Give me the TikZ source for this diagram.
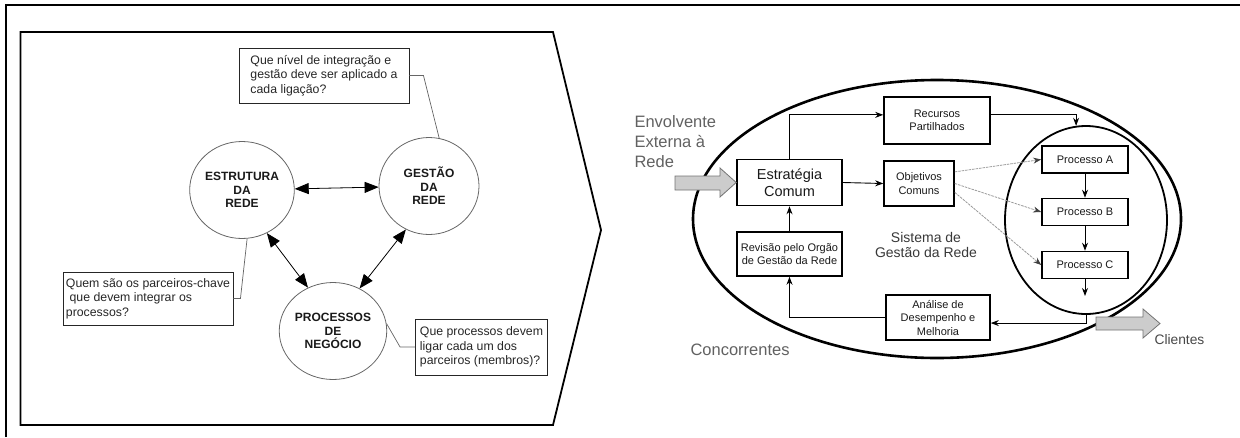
\documentclass[tikz,border=0pt]{standalone}
\usepackage{fontspec}
\setmainfont{Liberation Sans}
\usetikzlibrary{arrows.meta,shapes.geometric,calc}
\begin{document}
\begin{tikzpicture}[x=1pt,y=-1pt,
  frameline/.style={line width=2.5pt},
  chevron/.style={line width=1.8pt, line join=miter},
  topic/.style={ellipse, draw=black!60, line width=0.8pt, minimum width=100pt,
    minimum height=97pt, inner sep=0pt, align=center, text=black!90,
    font=\fontsize{12}{13.5}\selectfont\bfseries},
  question/.style={draw=black!85, line width=0.9pt, inner sep=0pt, align=left,
    text=black!85, font=\fontsize{12.3}{14.5}\selectfont},
  leader/.style={draw=black!60, line width=0.7pt},
  twoway/.style={line width=0.8pt, {Triangle[length=14pt,width=11pt]}-{Triangle[length=14pt,width=11pt]}},
  stepbox/.style={draw, line width=1.6pt, inner sep=0pt, align=center, text=black!90},
  small/.style={font=\fontsize{11}{13.5}\selectfont},
  flow/.style={line width=0.9pt, -{Stealth[length=8pt,width=6pt]}},
  goal/.style={draw=black!40, line width=0.8pt, dash pattern=on 2.5pt off 1pt,
    -{Stealth[length=8pt,width=6pt,color=black!75]}},
  fat/.style={fill=black!20, draw=black!55, line width=0.8pt, line join=miter},
  outside/.style={text=black!62, font=\fontsize{16.5}{20}\selectfont, align=left}
]
\useasboundingbox (0,0) rectangle (1240,437);

% outer frame (top and left rules)
\draw[frameline] (6,437) -- (6,5) -- (1240,5);

% ---------------- left panel ----------------
\draw[chevron] (20.5,32) -- (553,32) -- (601,230) -- (553,425) -- (20.5,425) -- cycle;

\node[topic] (estr) at (242,190) {ESTRUTURA\\DA\\REDE};
\node[topic] (gest) at (429,186) {GESTÃO\\DA\\REDE};
\node[topic] (proc) at (333,331) {PROCESSOS\\DE\\NEGÓCIO};

\draw[twoway] (estr) -- (gest);
\draw[twoway] (estr.-60) -- (proc.120);
\draw[twoway] (gest.-118) -- (proc.58);

\node[question, minimum width=170pt, minimum height=55pt] (qtop) at (324,75.5)
  {Que nível de integração e\\gestão deve ser aplicado a\\cada ligação?};
\node[question, minimum width=170pt, minimum height=53pt] (qleft) at (148,298.5)
  {Quem são os parceiros-chave\\\hspace*{0.3em}que devem integrar os\\processos?};
\node[question, minimum width=132pt, minimum height=56pt] (qright) at (481.5,347)
  {Que processos devem\\ligar cada um dos\\parceiros (membros)?};

\draw[leader] (qtop.east) -- ++(14,0) -- (gest.78);
\draw[leader] (qleft.east) -- ++(7,0) -- (estr.-84);
\draw[leader] (qright.west) -- ++(-15,0) -- (proc.8);

% ---------------- right panel ----------------
\node[ellipse, draw, line width=2.6pt, minimum width=488pt, minimum height=278pt,
  inner sep=0pt] (outer) at (937,219) {};
\node[ellipse, draw, line width=1.8pt, minimum width=162pt, minimum height=188pt,
  inner sep=0pt] (inner) at (1086,220) {};

\node[outside, anchor=west] (env) at (631,142) {Envolvente\\Externa à\\Rede};
\node[outside, anchor=west] (conc) at (687,350) {Concorrentes};
\node[text=black!72, anchor=west, font=\fontsize{13.8}{16}\selectfont] (cli) at (1151,340) {Clientes};
\node[text=black!78, align=center, font=\fontsize{14}{15.5}\selectfont] (sys) at (926,245)
  {Sistema de\\Gestão da Rede};

\node[stepbox, minimum width=105pt, minimum height=46pt,
  font=\fontsize{14.5}{16.5}\selectfont] (strat) at (789.5,182.5) {Estratégia\\Comum};
\node[stepbox, small, minimum width=106pt, minimum height=47pt] (rec) at (937,120.5)
  {Recursos\\Partilhados};
\node[stepbox, small, minimum width=70pt, minimum height=45pt] (obj) at (919,183.5)
  {Objetivos\\Comuns};
\node[stepbox, small, minimum width=105pt, minimum height=44pt] (rev) at (789.5,254)
  {Revisão pelo Orgão\\de Gestão da Rede};
\node[stepbox, small, minimum width=104pt, minimum height=45pt] (ana) at (938,317.5)
  {Análise de\\Desempenho e\\Melhoria};
\node[stepbox, small, minimum width=86pt, minimum height=27pt] (pa) at (1085,159.5) {Processo A};
\node[stepbox, small, minimum width=86pt, minimum height=27pt] (pb) at (1085,212) {Processo B};
\node[stepbox, small, minimum width=86pt, minimum height=27pt] (pc) at (1085,265) {Processo C};
\coordinate (pout) at (1085,296);

% input and output arrows
\draw[fat] (675,176) -- (720,176) -- (720,168) -- (strat.west) -- (720,197) -- (720,190)
  -- (675,190) -- cycle;
\draw[fat] (1096,317) -- (1143,317) -- (1143,309) -- (1160,323.5) -- (1143,338)
  -- (1143,330) -- (1096,330) -- cycle;

% flows
\draw[flow] (strat.north) |- (rec.174);
\draw[flow] (rec.6) -| (inner.96);
\draw[flow] (strat.east) -- (obj.west);
\draw[goal] (obj.18) -- (pa.west);
\draw[goal] (obj.0) -- (pb.west);
\draw[goal] (obj.-14) -- (pc.west);
\draw[flow] (pa) -- (pb);
\draw[flow] (pb) -- (pc);
\draw[flow] (pc) -- (pout);
\draw[flow] (inner.south) |- (ana.-6);
\draw[flow] (ana.west) -| (rev.south);
\draw[flow] (rev) -- (strat);
\end{tikzpicture}
\end{document}
